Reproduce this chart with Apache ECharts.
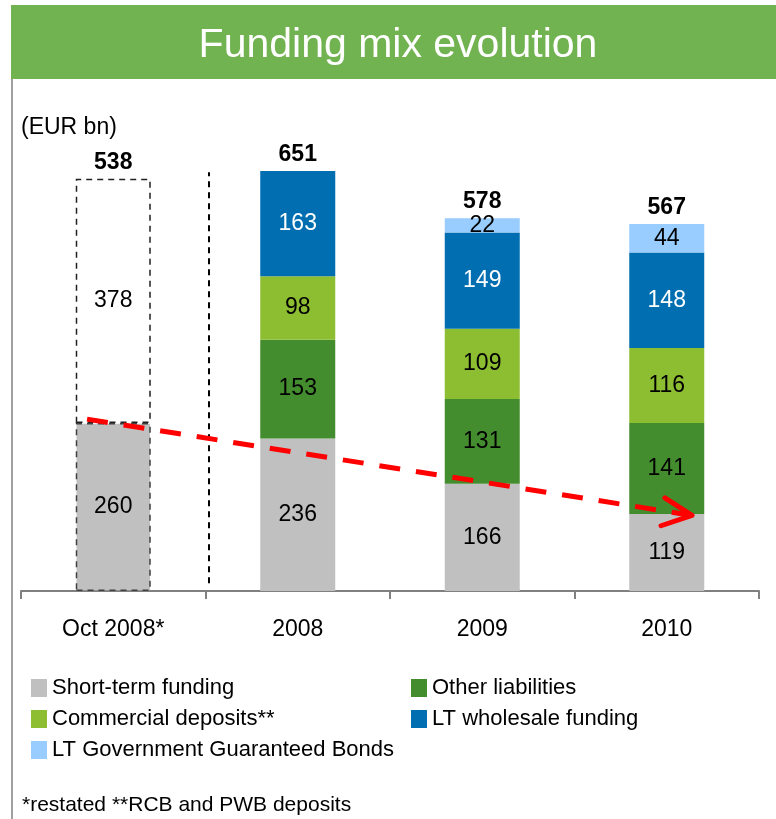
<!DOCTYPE html>
<html>
<head>
<meta charset="utf-8">
<title>Funding mix evolution</title>
<script src="https://cdn.jsdelivr.net/npm/echarts@6/dist/echarts.min.js"></script>
<style>
  html, body { margin: 0; padding: 0; background: #fff; }
  #chart { width: 776px; height: 819px; }
</style>
</head>
<body>
<div id="chart"></div>
<script>
// 数据
const categories = ['Oct 2008*', '2008', '2009', '2010']
const shortTerm = [260, 236, 166, 119]
const otherLiab = ['-', 153, 131, 141]
const commercial = ['-', 98, 109, 116]
const ltWholesale = ['-', 163, 149, 148]
const ltGovBonds = ['-', '-', 22, 44]
const restated = [378, '-', '-', '-']
const totals = [538, 651, 578, 567]

// 注释线（隐藏的数值 x 轴：0..4，每类占 1）
const trendX = [0.358, 3.637]
const trendY = [266, 117]
const arrowX = [3.49, 3.637, 3.469]
const arrowY = [144, 117, 101]
const dividerX = [1.019, 1.019]
const dividerY = [12, 648]

const FONT = '"Liberation Sans", Arial, sans-serif'
const colors = {
  short: '#C0C0C0',
  other: '#448D2F',
  commercial: '#8DBE32',
  wholesale: '#006EB0',
  gov: '#99CCFF'
}

function seg(name, data, color, labelColor) {
  return {
    name, type: 'bar', stack: 'total', barWidth: 75, data,
    itemStyle: { color },
    label: { show: true, position: 'inside', color: labelColor, fontSize: 23, fontFamily: FONT },
    emphasis: { disabled: true }
  }
}

function toPairs(xs, ys) {
  return xs.map((x, i) => [x, ys[i]])
}

const shortData = shortTerm.map((v, i) => i === 0
  ? { value: v, itemStyle: { borderColor: '#404040', borderWidth: 1.5, borderType: [6, 5] } }
  : v)
const restatedData = restated.map(v => v === '-' ? v
  : { value: v, itemStyle: { color: '#fff', borderColor: '#202020', borderWidth: 1.5, borderType: [6, 5] } })

const chart = echarts.init(document.getElementById('chart'), null, { renderer: 'canvas' })

const legendText = { fontSize: 22, fontFamily: FONT, color: '#000', lineHeight: 22 }

chart.setOption({
  animation: false,
  backgroundColor: '#fff',
  textStyle: { fontFamily: FONT },
  graphic: [
    { type: 'rect', shape: { x: 11, y: 5, width: 770, height: 74 }, style: { fill: '#72B351' }, z: 1 },
    { type: 'line', shape: { x1: 12, y1: 79, x2: 12, y2: 819 }, style: { stroke: '#A0A0A0', lineWidth: 2 }, z: 1 },
    { type: 'text', x: 398, y: 46, style: { text: 'Funding mix evolution', fill: '#fff', font: '41px ' + FONT, textAlign: 'center', textVerticalAlign: 'middle' }, z: 2 },
    { type: 'text', x: 21, y: 128, style: { text: '(EUR bn)', fill: '#000', font: '23px ' + FONT, textVerticalAlign: 'middle' }, z: 2 },
    { type: 'text', x: 22, y: 805, style: { text: '*restated **RCB and PWB deposits', fill: '#000', font: '21px ' + FONT, textVerticalAlign: 'middle' }, z: 2 }
  ],
  legend: [
    {
      left: 26, top: 672, orient: 'vertical', itemWidth: 16, itemHeight: 18, itemGap: 9,
      icon: 'rect', textStyle: legendText, selectedMode: false,
      data: ['Short-term funding', 'Commercial deposits**', 'LT Government Guaranteed Bonds']
    },
    {
      left: 406, top: 672, orient: 'vertical', itemWidth: 16, itemHeight: 18, itemGap: 9,
      icon: 'rect', textStyle: legendText, selectedMode: false,
      data: ['Other liabilities', 'LT wholesale funding']
    }
  ],
  grid: { left: 21, right: 17, top: 100, bottom: 228 },
  xAxis: [
    {
      type: 'category', data: categories,
      axisLine: { lineStyle: { color: '#808080', width: 2 } },
      axisTick: { show: true, length: 8, lineStyle: { color: '#808080', width: 2 } },
      axisLabel: { color: '#000', fontSize: 23, fontFamily: FONT, margin: 27 }
    },
    { type: 'value', min: 0, max: 4, show: false }
  ],
  yAxis: { type: 'value', min: 0, max: 760, show: false, splitLine: { show: false } },
  series: [
    seg('Short-term funding', shortData, colors.short, '#000'),
    seg('Other liabilities', otherLiab, colors.other, '#000'),
    seg('Commercial deposits**', commercial, colors.commercial, '#000'),
    seg('LT wholesale funding', ltWholesale, colors.wholesale, '#fff'),
    seg('LT Government Guaranteed Bonds', ltGovBonds, colors.gov, '#000'),
    seg('restated', restatedData, '#fff', '#000'),
    {
      name: 'total', type: 'bar', stack: 'total', barWidth: 75,
      data: totals.map(() => 0),
      itemStyle: { color: 'transparent' },
      label: {
        show: true, position: 'top', distance: 5,
        fontSize: 23, fontWeight: 'bold', color: '#000', fontFamily: FONT,
        formatter: p => totals[p.dataIndex]
      }
    },
    {
      type: 'line', xAxisIndex: 1, data: toPairs(dividerX, dividerY),
      symbol: 'none', lineStyle: { color: '#000', width: 2, type: [6, 5] }, z: 5
    },
    {
      type: 'line', xAxisIndex: 1, data: toPairs(trendX, trendY),
      symbol: 'none', lineStyle: { color: '#FF0000', width: 5, type: [21, 16] }, z: 6
    },
    {
      type: 'line', xAxisIndex: 1, data: toPairs(arrowX, arrowY),
      symbol: 'none', lineStyle: { color: '#FF0000', width: 5, cap: 'round', join: 'round' }, z: 6
    }
  ]
})
</script>
</body>
</html>
